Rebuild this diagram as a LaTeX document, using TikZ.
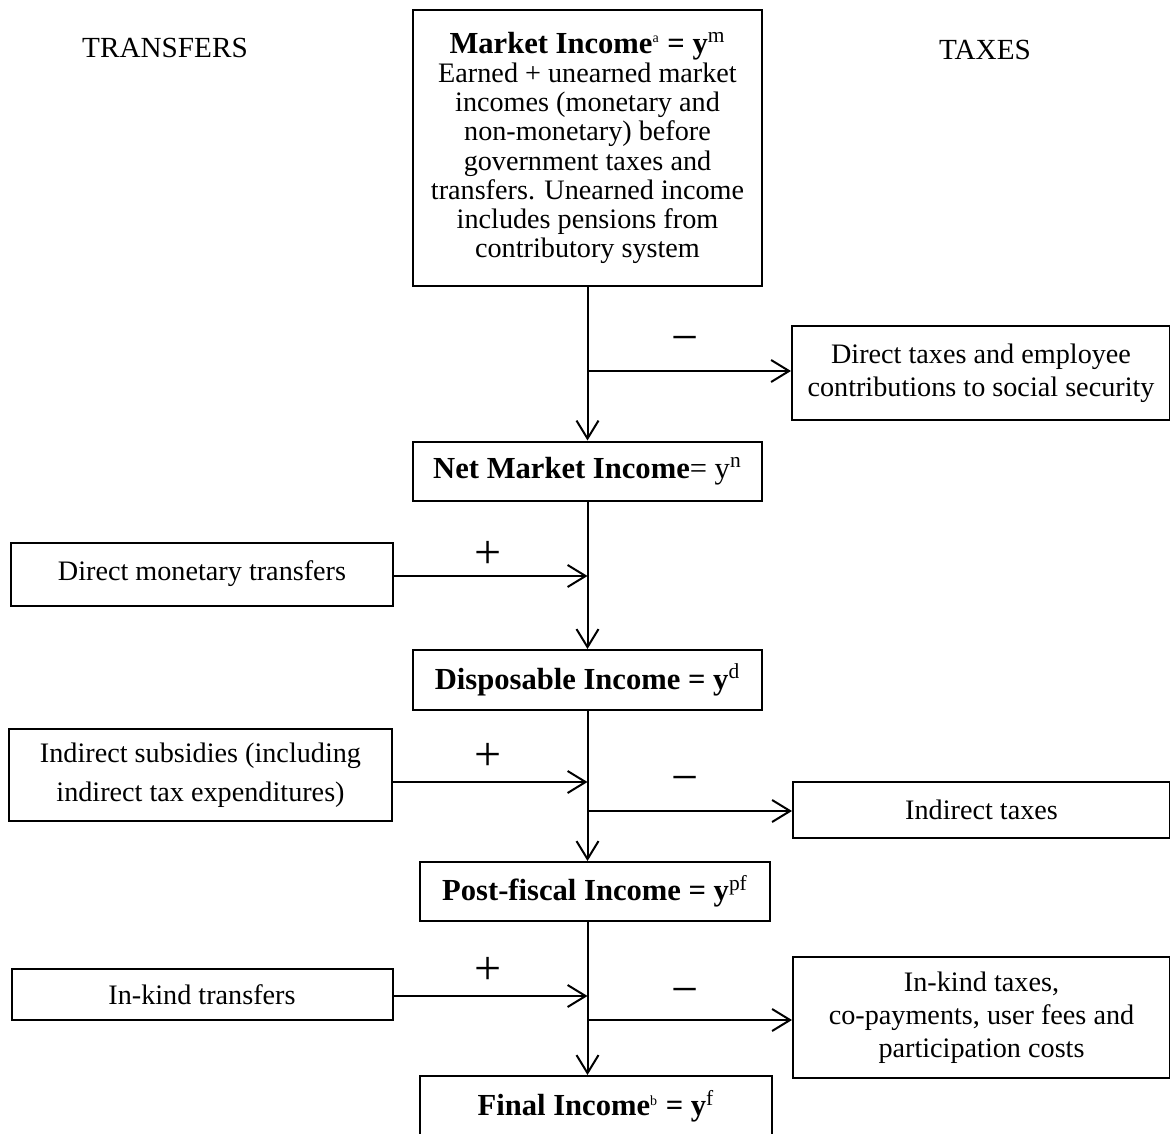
\documentclass[tikz,border=0pt]{standalone}
\usepackage{fontspec}
\setmainfont{Liberation Serif}
\usepackage{tikz}
\usetikzlibrary{arrows.meta}

\begin{document}
\begin{tikzpicture}[x=0.5pt, y=-0.5pt,
        box/.style={draw=black, line width=1pt, align=center, inner sep=0pt,
            font=\fontsize{14.1}{16.5}\selectfont},
        title/.style={font=\fontsize{15.3}{18}\selectfont\bfseries},
        flow/.style={line width=1pt, -{Straight Barb[length=9pt,width=11pt,line width=1pt]}},
        sign/.style={font=\fontsize{24}{24}\selectfont},
        head/.style={font=\fontsize{14.6}{17}\selectfont}]
        \useasboundingbox (0,0) rectangle (1170,1133);

        % column heads
        \node[head] (transfers) at (165,48) {TRANSFERS};
        \node[head] (taxes) at (985,50) {TAXES};

        % income concepts
        \node[box, font=\fontsize{14.1}{14.6}\selectfont, minimum width=174.5pt, minimum height=138pt] (mkt) at (587.5,148)
            {{\fontsize{15.3}{18}\selectfont\bfseries Market Income\textsuperscript{\mdseries\scriptsize a} = y\textsuperscript{\mdseries m}}\\
            Earned + unearned market\\ incomes (monetary and\\ non-monetary) before\\
            government taxes and\\ transfers. Unearned income\\ includes pensions from\\ contributory system};
        \node[box, title, minimum width=174.5pt, minimum height=29.5pt] (net) at (587.5,471)
            {Net Market Income{\mdseries= y\textsuperscript{n}}};
        \node[box, title, minimum width=174.5pt, minimum height=30pt] (disp) at (587.5,680)
            {Disposable Income = y\textsuperscript{\mdseries d}};
        \node[box, title, minimum width=175pt, minimum height=29.5pt] (post) at (595,891.5)
            {Post-fiscal Income = y\textsuperscript{\mdseries pf}};
        \node[box, title, minimum width=176pt, minimum height=30pt] (fin) at (596,1106)
            {Final Income\textsuperscript{\mdseries\scriptsize b} = y\textsuperscript{\mdseries f}};

        % transfers
        \node[box, minimum width=191pt, minimum height=31.5pt] (dmt) at (202,574)
            {Direct monetary transfers};
        \node[box, font=\fontsize{14.1}{19.5}\selectfont, minimum width=191.5pt, minimum height=46pt] (isub) at (200.5,775)
            {Indirect subsidies (including\\ indirect tax expenditures)};
        \node[box, minimum width=190.5pt, minimum height=25.5pt] (ikt) at (202,994.5)
            {In-kind transfers};

        % taxes
        \node[box, minimum width=189pt, minimum height=46.5pt] (dtax) at (981,373)
            {Direct taxes and employee\\ contributions to social security};
        \node[box, minimum width=188.5pt, minimum height=28pt] (itax) at (981.5,810)
            {Indirect taxes};
        \node[box, minimum width=188.5pt, minimum height=60.5pt] (iktax) at (981.5,1017.5)
            {In-kind taxes,\\ co-payments, user fees and\\ participation costs};

        % junctions on the main line
        \coordinate (j1) at (587.5,371);
        \coordinate (j2) at (587.5,576);
        \coordinate (j3) at (587.5,782);
        \coordinate (j4) at (587.5,811);
        \coordinate (j5) at (587.5,996);
        \coordinate (j6) at (587.5,1020);

        \draw[flow] (mkt.south) -- (net.north);
        \draw[flow] (j1) -- (dtax.west |- j1);
        \draw[flow] (net.south) -- (disp.north);
        \draw[flow] (dmt.east |- j2) -- (j2);
        \draw[flow] (disp.south) -- (disp.south |- post.north);
        \draw[flow] (isub.east |- j3) -- (j3);
        \draw[flow] (j4) -- (itax.west |- j4);
        \draw[flow] (disp.south |- post.south) -- (disp.south |- fin.north);
        \draw[flow] (ikt.east |- j5) -- (j5);
        \draw[flow] (j6) -- (iktax.west |- j6);

        % signs
        \node[sign] (m1) at (685,345) {−};
        \node[sign] (p1) at (488,555) {+};
        \node[sign] (p2) at (488,757) {+};
        \node[sign] (m2) at (685,785) {−};
        \node[sign] (p3) at (488,971) {+};
        \node[sign] (m3) at (685,997) {−};
\end{tikzpicture}
\end{document}
